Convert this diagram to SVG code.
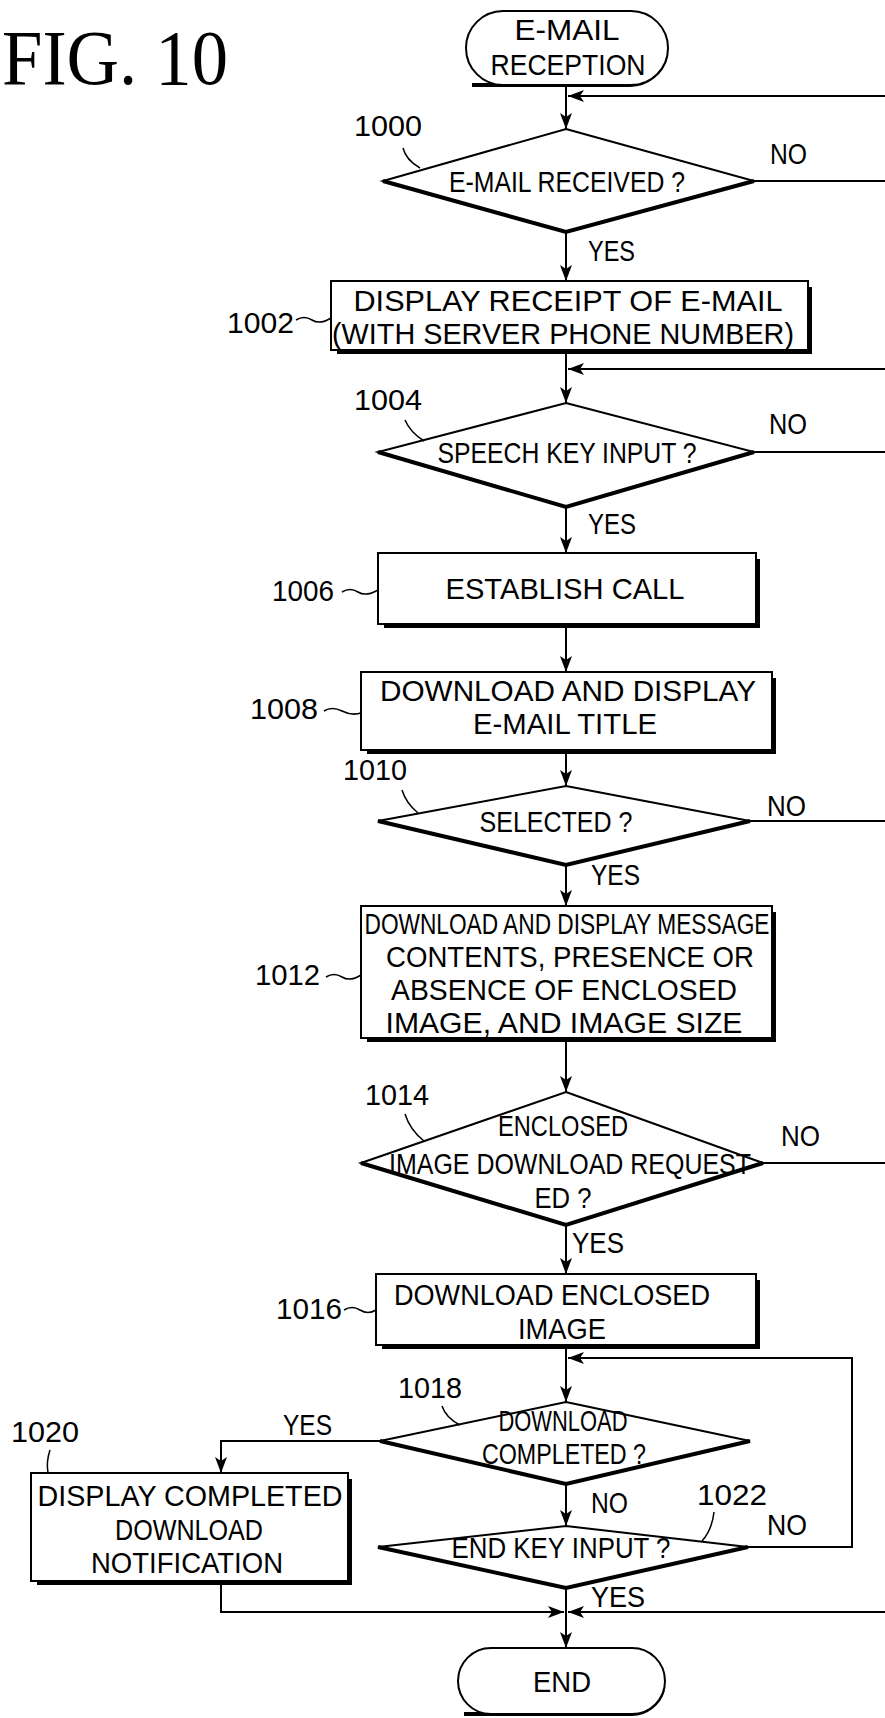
<svg xmlns="http://www.w3.org/2000/svg" width="885" height="1718" viewBox="0 0 885 1718">
<defs>
<marker id="ah" viewBox="0 0 16 12" refX="16" refY="6" markerWidth="16" markerHeight="12" markerUnits="userSpaceOnUse" orient="auto">
<path d="M0,0 L16,6 L0,12 L4,6 Z" fill="#000"/>
</marker>
<style>
.s{fill:#fff;stroke:#000;stroke-width:2}
.sh{fill:none;stroke:#000;stroke-width:4}
.c{fill:none;stroke:#000;stroke-width:2}
.l{fill:none;stroke:#000;stroke-width:1.5}
.t{font-family:"Liberation Sans Narrow","Liberation Sans",Arial,sans-serif;font-size:29px;fill:#000;text-anchor:middle}
.n{font-family:"Liberation Sans Narrow","Liberation Sans",Arial,sans-serif;font-size:29px;fill:#000}
.fig{font-family:"Liberation Serif","Times New Roman",serif;font-size:78px;fill:#000}
</style>
</defs>
<rect width="885" height="1718" fill="#fff"/>
<text class="fig" x="2" y="84" textLength="226" lengthAdjust="spacingAndGlyphs">FIG. 10</text>

<g id="connectors">
<path class="c" d="M566,85 V129" marker-end="url(#ah)"/>
<path class="c" d="M885,96 H568" marker-end="url(#ah)"/>
<path class="c" d="M754,181 H885"/>
<path class="c" d="M566,232 V281" marker-end="url(#ah)"/>
<path class="c" d="M566,350 V403" marker-end="url(#ah)"/>
<path class="c" d="M885,369 H568" marker-end="url(#ah)"/>
<path class="c" d="M754,452 H885"/>
<path class="c" d="M566,507 V553" marker-end="url(#ah)"/>
<path class="c" d="M566,624 V672" marker-end="url(#ah)"/>
<path class="c" d="M566,750 V786" marker-end="url(#ah)"/>
<path class="c" d="M750,821 H885"/>
<path class="c" d="M566,865 V906" marker-end="url(#ah)"/>
<path class="c" d="M566,1038 V1092" marker-end="url(#ah)"/>
<path class="c" d="M763,1163 H885"/>
<path class="c" d="M566,1225 V1274" marker-end="url(#ah)"/>
<path class="c" d="M566,1345 V1402" marker-end="url(#ah)"/>
<path class="c" d="M748,1547 H852 V1358 H568" marker-end="url(#ah)"/>
<path class="c" d="M380,1441 H221 V1473" marker-end="url(#ah)"/>
<path class="c" d="M566,1484 V1526" marker-end="url(#ah)"/>
<path class="c" d="M566,1588 V1648" marker-end="url(#ah)"/>
<path class="c" d="M221,1581 V1612 H564" marker-end="url(#ah)"/>
<path class="c" d="M885,1612 H568" marker-end="url(#ah)"/>
<text class="n" x="770" y="164" textLength="37" lengthAdjust="spacingAndGlyphs">NO</text>
<text class="n" x="588" y="261" textLength="47" lengthAdjust="spacingAndGlyphs">YES</text>
<text class="n" x="769" y="434" textLength="38" lengthAdjust="spacingAndGlyphs">NO</text>
<text class="n" x="588" y="534" textLength="48" lengthAdjust="spacingAndGlyphs">YES</text>
<text class="n" x="767" y="816" textLength="39" lengthAdjust="spacingAndGlyphs">NO</text>
<text class="n" x="591" y="885" textLength="49" lengthAdjust="spacingAndGlyphs">YES</text>
<text class="n" x="781" y="1146" textLength="39" lengthAdjust="spacingAndGlyphs">NO</text>
<text class="n" x="572" y="1253" textLength="52" lengthAdjust="spacingAndGlyphs">YES</text>
<text class="n" x="283" y="1435" textLength="49" lengthAdjust="spacingAndGlyphs">YES</text>
<text class="n" x="591" y="1513" textLength="37" lengthAdjust="spacingAndGlyphs">NO</text>
<text class="n" x="767" y="1535" textLength="40" lengthAdjust="spacingAndGlyphs">NO</text>
<text class="n" x="591" y="1607" textLength="54" lengthAdjust="spacingAndGlyphs">YES</text>
</g>

<g id="start">
<path class="sh" d="M472,85 H630 A37,37 0 0 0 666,56"/>
<rect class="s" x="466" y="11" width="202" height="74" rx="37"/>
<text class="t" x="567" y="40" textLength="105" lengthAdjust="spacingAndGlyphs">E-MAIL</text>
<text class="t" x="568" y="75" textLength="155" lengthAdjust="spacingAndGlyphs">RECEPTION</text>
</g>

<g id="n1000">
<polygon class="s" points="566,129 754,181 566,232 383,181"/>
<path class="sh" d="M383,181 L566,232 L754,181"/>
<text class="t" x="567" y="192" textLength="236" lengthAdjust="spacingAndGlyphs">E-MAIL RECEIVED ?</text>
<text class="n" x="354" y="136" textLength="68" lengthAdjust="spacingAndGlyphs">1000</text>
<path class="l" d="M403,148 Q406,160 420,168"/>
</g>

<g id="n1002">
<rect class="s" x="331" y="281" width="477" height="69"/>
<path class="sh" d="M337,352 H810 V287"/>
<text class="t" x="568" y="311" textLength="429" lengthAdjust="spacingAndGlyphs">DISPLAY RECEIPT OF E-MAIL</text>
<text class="t" x="563" y="344" textLength="462" lengthAdjust="spacingAndGlyphs">(WITH SERVER PHONE NUMBER)</text>
<text class="n" x="227" y="333" textLength="67" lengthAdjust="spacingAndGlyphs">1002</text>
<path class="l" d="M296,320 Q304,315 312,320 T331,318"/>
</g>

<g id="n1004">
<polygon class="s" points="566,403 754,452 566,507 378,452"/>
<path class="sh" d="M378,452 L566,507 L754,452"/>
<text class="t" x="567" y="463" textLength="259" lengthAdjust="spacingAndGlyphs">SPEECH KEY INPUT ?</text>
<text class="n" x="354" y="410" textLength="68" lengthAdjust="spacingAndGlyphs">1004</text>
<path class="l" d="M405,420 Q410,432 424,441"/>
</g>

<g id="n1006">
<rect class="s" x="378" y="553" width="378" height="71"/>
<path class="sh" d="M384,626 H758 V559"/>
<text class="t" x="565" y="599" textLength="239" lengthAdjust="spacingAndGlyphs">ESTABLISH CALL</text>
<text class="n" x="272" y="601" textLength="62" lengthAdjust="spacingAndGlyphs">1006</text>
<path class="l" d="M342,592 Q350,587 358,592 T378,590"/>
</g>

<g id="n1008">
<rect class="s" x="361" y="672" width="411" height="78"/>
<path class="sh" d="M367,752 H774 V678"/>
<text class="t" x="568" y="701" textLength="376" lengthAdjust="spacingAndGlyphs">DOWNLOAD AND DISPLAY</text>
<text class="t" x="565" y="734" textLength="184" lengthAdjust="spacingAndGlyphs">E-MAIL TITLE</text>
<text class="n" x="250" y="719" textLength="68" lengthAdjust="spacingAndGlyphs">1008</text>
<path class="l" d="M324,711 Q332,706 342,711 T361,713"/>
</g>

<g id="n1010">
<polygon class="s" points="566,786 750,821 566,865 378,821"/>
<path class="sh" d="M378,821 L566,865 L750,821"/>
<text class="t" x="556" y="832" textLength="153" lengthAdjust="spacingAndGlyphs">SELECTED ?</text>
<text class="n" x="343" y="780" textLength="64" lengthAdjust="spacingAndGlyphs">1010</text>
<path class="l" d="M402,790 Q406,803 418,813"/>
</g>

<g id="n1012">
<rect class="s" x="361" y="906" width="411" height="132"/>
<path class="sh" d="M367,1040 H774 V912"/>
<text class="t" x="567" y="934" textLength="405" lengthAdjust="spacingAndGlyphs">DOWNLOAD AND DISPLAY MESSAGE</text>
<text class="t" x="570" y="967" textLength="368" lengthAdjust="spacingAndGlyphs">CONTENTS, PRESENCE OR</text>
<text class="t" x="564" y="1000" textLength="346" lengthAdjust="spacingAndGlyphs">ABSENCE OF ENCLOSED</text>
<text class="t" x="564" y="1033" textLength="357" lengthAdjust="spacingAndGlyphs">IMAGE, AND IMAGE SIZE</text>
<text class="n" x="255" y="985" textLength="65" lengthAdjust="spacingAndGlyphs">1012</text>
<path class="l" d="M326,977 Q334,972 342,977 T361,975"/>
</g>

<g id="n1014">
<polygon class="s" points="566,1092 763,1163 566,1225 361,1163"/>
<path class="sh" d="M361,1163 L566,1225 L763,1163"/>
<text class="t" x="563" y="1136" textLength="130" lengthAdjust="spacingAndGlyphs">ENCLOSED</text>
<text class="t" x="570" y="1174" textLength="362" lengthAdjust="spacingAndGlyphs">IMAGE DOWNLOAD REQUEST</text>
<text class="t" x="563" y="1208" textLength="57" lengthAdjust="spacingAndGlyphs">ED ?</text>
<text class="n" x="365" y="1105" textLength="64" lengthAdjust="spacingAndGlyphs">1014</text>
<path class="l" d="M405,1114 Q410,1130 424,1141"/>
</g>

<g id="n1016">
<rect class="s" x="376" y="1274" width="380" height="71"/>
<path class="sh" d="M382,1347 H758 V1280"/>
<text class="t" x="552" y="1305" textLength="316" lengthAdjust="spacingAndGlyphs">DOWNLOAD ENCLOSED</text>
<text class="t" x="562" y="1339" textLength="88" lengthAdjust="spacingAndGlyphs">IMAGE</text>
<text class="n" x="276" y="1319" textLength="66" lengthAdjust="spacingAndGlyphs">1016</text>
<path class="l" d="M344,1310 Q352,1305 360,1310 T376,1310"/>
</g>

<g id="n1018">
<polygon class="s" points="566,1402 750,1441 566,1484 380,1441"/>
<path class="sh" d="M380,1441 L566,1484 L750,1441"/>
<text class="t" x="563" y="1431" textLength="129" lengthAdjust="spacingAndGlyphs">DOWNLOAD</text>
<text class="t" x="564" y="1464" textLength="164" lengthAdjust="spacingAndGlyphs">COMPLETED ?</text>
<text class="n" x="398" y="1398" textLength="64" lengthAdjust="spacingAndGlyphs">1018</text>
<path class="l" d="M442,1406 Q446,1418 460,1425"/>
</g>

<g id="n1020">
<rect class="s" x="31" y="1473" width="317" height="108"/>
<path class="sh" d="M37,1583 H350 V1479"/>
<text class="t" x="190" y="1506" textLength="305" lengthAdjust="spacingAndGlyphs">DISPLAY COMPLETED</text>
<text class="t" x="189" y="1540" textLength="148" lengthAdjust="spacingAndGlyphs">DOWNLOAD</text>
<text class="t" x="187" y="1573" textLength="192" lengthAdjust="spacingAndGlyphs">NOTIFICATION</text>
<text class="n" x="11" y="1442" textLength="68" lengthAdjust="spacingAndGlyphs">1020</text>
<path class="l" d="M50,1450 Q46,1462 48,1473"/>
</g>

<g id="n1022">
<polygon class="s" points="566,1526 748,1547 566,1588 378,1547"/>
<path class="sh" d="M378,1547 L566,1588 L748,1547"/>
<text class="t" x="561" y="1558" textLength="219" lengthAdjust="spacingAndGlyphs">END KEY INPUT ?</text>
<text class="n" x="697" y="1505" textLength="70" lengthAdjust="spacingAndGlyphs">1022</text>
<path class="l" d="M714,1512 Q712,1530 702,1541"/>
</g>

<g id="end">
<path class="sh" d="M464,1714 H632 A33,33 0 0 0 663,1690"/>
<rect class="s" x="458" y="1648" width="207" height="66" rx="33"/>
<text class="t" x="562" y="1692" textLength="58" lengthAdjust="spacingAndGlyphs">END</text>
</g>
</svg>
